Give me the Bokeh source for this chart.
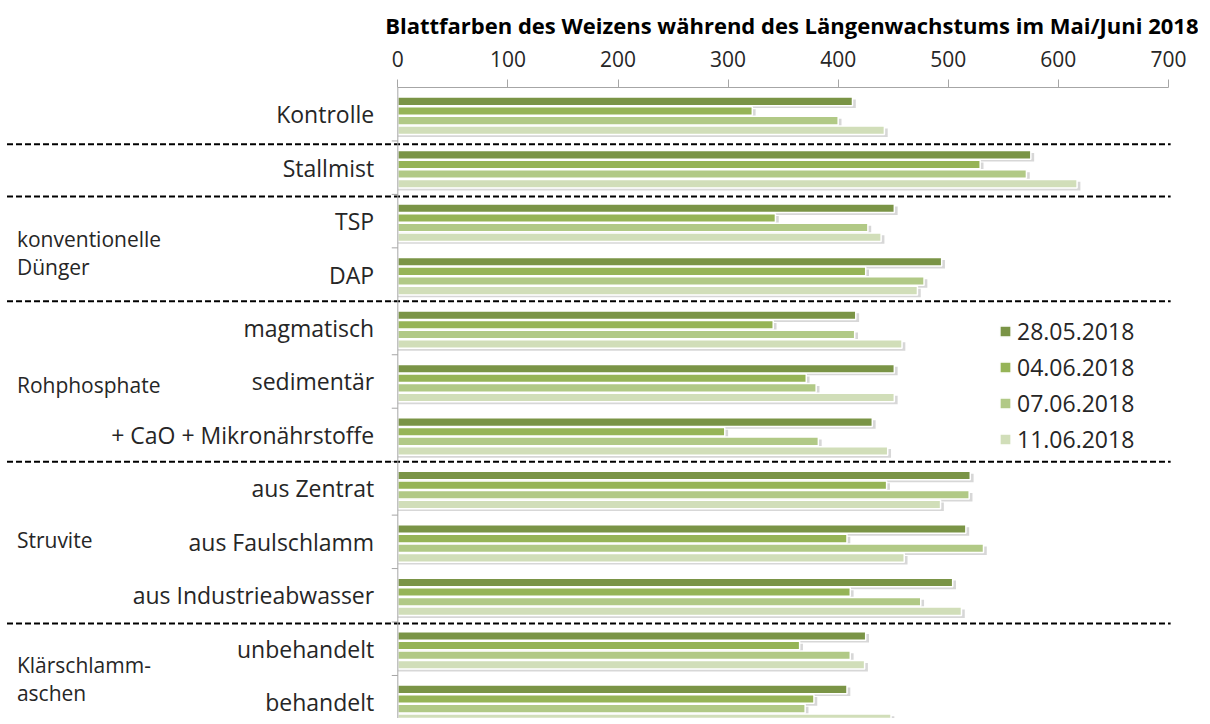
from bokeh.plotting import figure
from bokeh.models import Range1d, FixedTicker, Span, Legend, LegendItem, ColumnDataSource
from bokeh.core.properties import value
from bokeh.embed import file_html
from bokeh.resources import INLINE

categories = ["Kontrolle", "Stallmist", "TSP", "DAP", "magmatisch", "sedimentär",
              "+ CaO + Mikronährstoffe", "aus Zentrat", "aus Faulschlamm",
              "aus Industrieabwasser", "unbehandelt", "behandelt"]
series = ["28.05.2018", "04.06.2018", "07.06.2018", "11.06.2018"]
v_2805 = [413, 575, 451, 494, 416, 451, 431, 520, 516, 504, 425, 408]
v_0406 = [322, 529, 343, 425, 341, 371, 297, 444, 408, 411, 365, 378]
v_0706 = [400, 571, 427, 478, 415, 380, 382, 519, 532, 475, 411, 370]
v_1106 = [442, 617, 439, 472, 458, 451, 445, 493, 460, 512, 424, 448]
group_labels = ["konventionelle\nDünger", "Rohphosphate", "Struvite", "Klärschlamm-\naschen"]
group_pos = [2.59, 5.06, 7.97, 10.56]
separators = [0.56, 1.54, 3.5, 6.5, 9.53]
x_ticks = [0, 100, 200, 300, 400, 500, 600, 700]

colors = ["#7A9446", "#96B457", "#B1C986", "#D1DEB9"]
offsets = [-0.24, -0.06, 0.12, 0.30]
values = [v_2805, v_0406, v_0706, v_1106]
FONT = "Open Sans"

p = figure(width=1198, height=718, output_backend="svg", toolbar_location=None,
           x_range=Range1d(-359.1, 727.3), y_range=Range1d(11.305, -0.5),
           x_axis_location="above", min_border_left=2, min_border_right=0,
           min_border_top=87, min_border_bottom=0)
p.outline_line_color = None
p.grid.visible = False
p.yaxis.visible = False

p.title.text = "Blattfarben des Weizens während des Längenwachstums im Mai/Juni 2018"
p.title.align = "right"
p.title.offset = 0
p.title.standoff = 15
p.title.text_font = FONT
p.title.text_font_size = "22px"
p.title.text_font_style = "bold"
p.title.text_color = "#000000"

ax = p.xaxis[0]
ax.bounds = (0, 700)
ax.ticker = FixedTicker(ticks=x_ticks)
ax.axis_line_color = "#a6a6a6"
ax.major_tick_line_color = "#a6a6a6"
ax.major_tick_out = 8
ax.major_tick_in = 0
ax.minor_tick_out = 0
ax.minor_tick_in = 0
ax.major_label_text_font = FONT
ax.major_label_text_font_size = "21px"
ax.major_label_text_color = "#262626"
ax.major_label_standoff = 13

# vertical axis line and ticks
p.add_layout(Span(location=0, dimension="height", line_color="#a6a6a6", line_width=1))
bounds = [i + 0.5 for i in range(len(categories) - 1)]
p.segment(x0=[-5.5] * len(bounds), x1=[0] * len(bounds), y0=bounds, y1=bounds,
          line_color="#a6a6a6", line_width=1)

# separators
p.segment(x0=[-355] * len(separators), x1=[702] * len(separators), y0=separators, y1=separators,
          line_color="#000000", line_width=2, line_dash="6 3")

idx = list(range(len(categories)))
renderers = []
for s, vals, col, off in zip(series, values, colors, offsets):
    src = ColumnDataSource(dict(y=[i + off for i in idx], ys=[i + off + 0.045 for i in idx],
                                right=vals, rs=[v + 3 for v in vals]))
    p.hbar(y="ys", right="rs", left=0, height=0.16, source=src,
           fill_color="#8c8c8c", fill_alpha=0.35, line_color=None)
    r = p.hbar(y="y", right="right", left=0, height=0.16, source=src,
               fill_color=col, line_color="white", line_width=1.5)
    renderers.append((s, r))

# category labels
p.text(x=[-21.5] * len(categories), y=idx, text=categories, text_align="right",
       text_baseline="middle", text_font=value(FONT), text_font_size="23px",
       text_color="#262626")
# group labels
p.text(x=[-346] * len(group_labels), y=group_pos, text=group_labels, text_align="left",
       text_baseline="middle", text_font=value(FONT), text_font_size="21px",
       text_color="#262626", text_line_height=1.0)

legend = Legend(items=[LegendItem(label=s, renderers=[r]) for s, r in renderers],
                location=(996, 263), glyph_width=14, glyph_height=14, label_height=20,
                spacing=4, padding=0, margin=0, label_standoff=5,
                label_text_font=FONT, label_text_font_size="23px",
                label_text_color="#262626", border_line_color=None,
                background_fill_alpha=0)
p.add_layout(legend)

open("out.html", "w").write(file_html(p, INLINE))
